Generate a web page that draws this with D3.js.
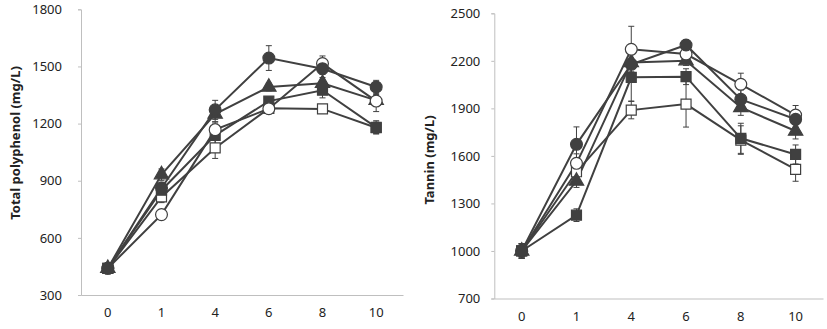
<!DOCTYPE html>
<html><head><meta charset="utf-8">
<script src="https://cdn.jsdelivr.net/npm/d3@7"></script>
<style>body{margin:0;background:#fff}svg{display:block}text{font-family:"Noto Sans",sans-serif;fill:#222}</style>
</head><body><svg id="c" width="827" height="329"></svg>
<script>
const days = ["0","1","4","6","8","10"];
const seriesNames = ["fCircle","oCircle","fTriangle","fSquare","oSquare"];
// Total polyphenol (mg/L)
const tpFilledCircle = [440, 862, 1272, 1544, 1488, 1392];
const tpOpenCircle   = [440, 722, 1168, 1278, 1515, 1318];
const tpTriangle     = [440, 932, 1250, 1392, 1412, 1322];
const tpFilledSquare = [440, 850, 1138, 1318, 1375, 1180];
const tpOpenSquare   = [440, 815, 1072, 1280, 1277, 1178];
const tpErrFilledCircle = [10, 30, 50, 65, 30, 35];
const tpErrOpenCircle   = [10, 20, 40, 20, 40, 55];
const tpErrTriangle     = [10, 30, 40, 20, 30, 30];
const tpErrFilledSquare = [10, 25, 60, 20, 40, 35];
const tpErrOpenSquare   = [10, 30, 55, 20, 20, 30];
const tpTicks = [300, 600, 900, 1200, 1500, 1800];
// Tannin (mg/L)
const tnFilledCircle = [1000, 1673, 2178, 2300, 1957, 1831];
const tnOpenCircle   = [1000, 1553, 2273, 2243, 2052, 1858];
const tnTriangle     = [1000, 1441, 2190, 2201, 1906, 1757];
const tnFilledSquare = [1000, 1226, 2096, 2100, 1711, 1609];
const tnOpenSquare   = [1000, 1500, 1889, 1927, 1700, 1515];
const tnErrFilledCircle = [45, 110, 80, 30, 60, 50];
const tnErrOpenCircle   = [45, 60, 145, 40, 70, 60];
const tnErrTriangle     = [45, 40, 60, 30, 50, 50];
const tnErrFilledSquare = [45, 40, 150, 50, 95, 60];
const tnErrOpenSquare   = [45, 40, 55, 145, 90, 75];
const tnTicks = [700, 1000, 1300, 1600, 1900, 2200, 2500];

const svg = d3.select("#c");
const dark = "#404040", axisCol = "#bfbfbf";
const markers = {
  fCircle:   {type:d3.symbolCircle, fill:dark, size:110},
  oCircle:   {type:d3.symbolCircle, fill:"#fff", size:110},
  fTriangle: {type:d3.symbolTriangle, fill:dark, size:90},
  fSquare:   {type:d3.symbolSquare, fill:dark, size:100},
  oSquare:   {type:d3.symbolSquare, fill:"#fff", size:100}
};

function panel(opt){
  const x = d3.scaleBand().domain(days).range([opt.x0, opt.x1]);
  const y = d3.scaleLinear().domain(opt.domain).range([opt.y0, opt.y1]);
  const g = svg.append("g");
  const ya = g.append("g").attr("transform",`translate(${opt.x0},0)`)
    .call(d3.axisLeft(y).tickValues(opt.ticks).tickFormat(d3.format("d")).tickSize(3).tickPadding(opt.pad));
  ya.select(".domain").attr("stroke",axisCol);
  ya.selectAll(".tick line").attr("stroke",axisCol);
  ya.selectAll("text").style("font-size","13px").attr("fill","#222");
  const xa = g.append("g").attr("transform",`translate(0,${opt.y0})`)
    .call(d3.axisBottom(x).tickSize(0).tickPadding(13));
  xa.select(".domain").attr("stroke",axisCol);
  xa.selectAll("text").style("font-size","13px").attr("fill","#222");
  g.append("text").attr("transform",`translate(${opt.tx},${opt.ty}) rotate(-90)`)
    .attr("text-anchor","middle").attr("dominant-baseline","middle")
    .style("font-size","13px").style("font-weight","bold").text(opt.title);
  const cx = d => x(d) + x.bandwidth()/2;
  const line = d3.line().x((d,i)=>cx(days[i])).y(d=>y(d));
  const order = [4,3,2,1,0];
  order.forEach(k=>{
    g.append("path").attr("d",line(opt.vals[k])).attr("fill","none")
      .attr("stroke",dark).attr("stroke-width",2);
  });
  order.forEach(k=>{
    const v = opt.vals[k], e = opt.errs[k];
    v.forEach((val,i)=>{
      const px = cx(days[i]);
      const eg = g.append("g").attr("stroke",dark).attr("stroke-width",1);
      eg.append("line").attr("x1",px).attr("x2",px).attr("y1",y(val-e[i])).attr("y2",y(val+e[i]));
      eg.append("line").attr("x1",px-3).attr("x2",px+3).attr("y1",y(val-e[i])).attr("y2",y(val-e[i]));
      eg.append("line").attr("x1",px-3).attr("x2",px+3).attr("y1",y(val+e[i])).attr("y2",y(val+e[i]));
    });
  });
  order.forEach(k=>{
    const m = markers[seriesNames[k]];
    g.selectAll(null).data(opt.vals[k]).join("path")
      .attr("d",d3.symbol().type(m.type).size(m.size))
      .attr("transform",(d,i)=>`translate(${cx(days[i])},${y(d)})`)
      .attr("fill",m.fill).attr("stroke",dark).attr("stroke-width",1.2);
  });
}

panel({x0:81, x1:403, y0:295, y1:9.3, domain:[300,1800], ticks:tpTicks, pad:16,
  title:"Total polyphenol (mg/L)", tx:16, ty:143,
  vals:[tpFilledCircle,tpOpenCircle,tpTriangle,tpFilledSquare,tpOpenSquare],
  errs:[tpErrFilledCircle,tpErrOpenCircle,tpErrTriangle,tpErrFilledSquare,tpErrOpenSquare]});
panel({x0:494.3, x1:823, y0:298.5, y1:13.3, domain:[700,2500], ticks:tnTicks, pad:11,
  title:"Tannin (mg/L)", tx:430, ty:160,
  vals:[tnFilledCircle,tnOpenCircle,tnTriangle,tnFilledSquare,tnOpenSquare],
  errs:[tnErrFilledCircle,tnErrOpenCircle,tnErrTriangle,tnErrFilledSquare,tnErrOpenSquare]});
</script></body></html>
